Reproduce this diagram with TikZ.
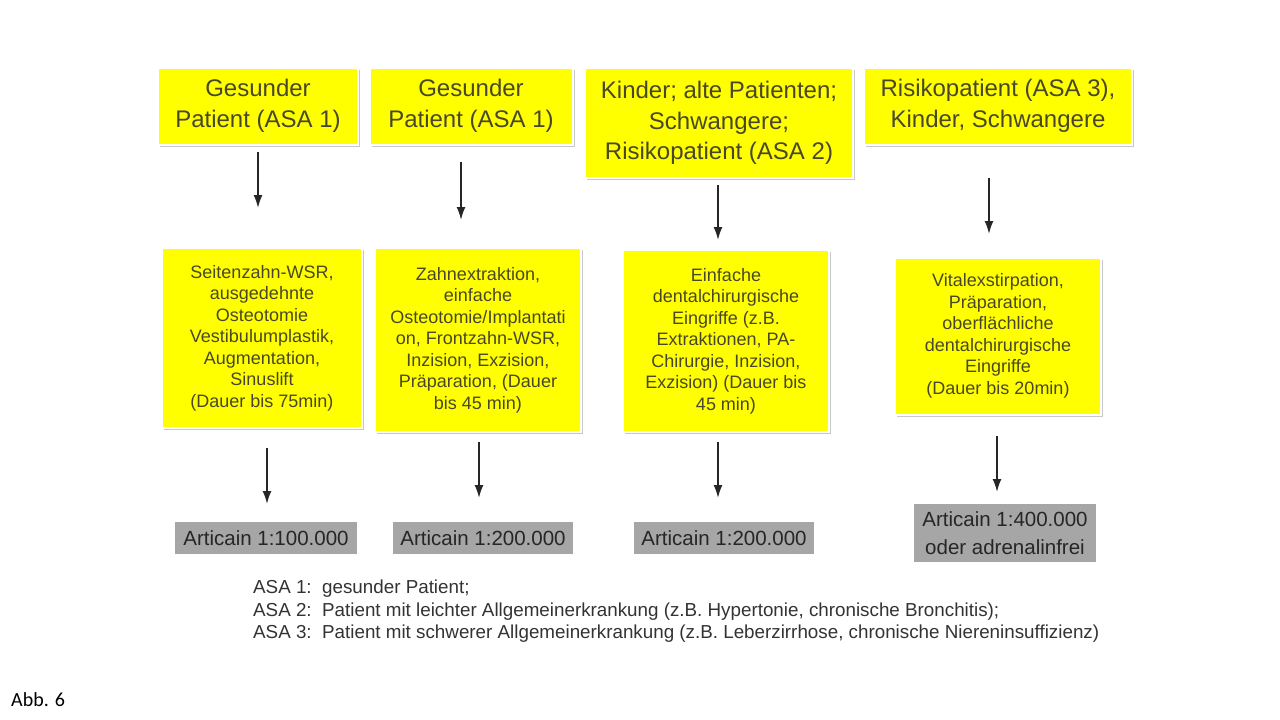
\documentclass[tikz,border=0pt]{standalone}
\usepackage{fontspec}
\setmainfont{Liberation Sans}
\newfontfamily\abbfont{Carlito}
\usetikzlibrary{positioning,arrows.meta}
\definecolor{boxyellow}{RGB}{255,255,0}
\definecolor{olivetext}{RGB}{72,72,40}
\definecolor{shadowgray}{RGB}{200,200,200}
\definecolor{boxgray}{RGB}{166,166,166}
\tikzset{
  patbox/.style={fill=boxyellow, draw=white, line width=2pt, text=olivetext, align=center,
    font=\fontsize{24}{30.5}\selectfont, inner sep=2pt, minimum height=77pt},
  eingbox/.style={fill=boxyellow, draw=white, line width=2pt, text=olivetext, align=center,
    font=\fontsize{18}{21.5}\selectfont, inner sep=1pt},
  dosebox/.style={fill=boxgray, draw=white, line width=1.5pt, text=black!85, align=center,
    font=\fontsize{20.5}{28}\selectfont, inner sep=2pt, minimum height=34pt},
  shadowed/.style={preaction={fill=shadowgray, transform canvas={shift={(2pt,-2pt)}}}},
  flowarrow/.style={-{Latex[length=13pt,width=9pt]}, line width=1.8pt, black!85},
}
\begin{document}
\begin{tikzpicture}[x=1pt,y=-1pt]
\useasboundingbox[fill=white] (0,0) rectangle (1280,720);
% Patienten
\node[patbox, shadowed, minimum width=200pt] (p1) at (258,106) {Gesunder\\Patient (ASA 1)};
\node[patbox, shadowed, minimum width=203pt] (p2) at (471,106) {Gesunder\\Patient (ASA 1)};
\node[patbox, shadowed, minimum width=268pt, minimum height=110pt] (p3) at (719,123) {Kinder; alte Patienten;\\Schwangere;\\Risikopatient (ASA 2)};
\node[patbox, shadowed, minimum width=268pt] (p4) at (998,106) {Risikopatient (ASA 3),\\Kinder, Schwangere};
% Eingriffe
\node[eingbox, shadowed, minimum width=200pt, minimum height=180pt] (e1) at (262,338) {Seitenzahn-WSR,\\ausgedehnte\\Osteotomie\\Vestibulumplastik,\\Augmentation,\\Sinuslift\\(Dauer bis 75min)};
\node[eingbox, shadowed, minimum width=206pt, minimum height=184pt] (e2) at (478,340) {Zahnextraktion,\\einfache\\Osteotomie/Implantati\\on, Frontzahn-WSR,\\Inzision, Exzision,\\Präparation, (Dauer\\bis 45 min)};
\node[eingbox, shadowed, minimum width=206pt, minimum height=182pt] (e3) at (726,341) {Einfache\\dentalchirurgische\\Eingriffe (z.B.\\Extraktionen, PA-\\Chirurgie, Inzision,\\Exzision) (Dauer bis\\45 min)};
\node[eingbox, shadowed, minimum width=206pt, minimum height=157pt] (e4) at (998,336) {Vitalexstirpation,\\Präparation,\\oberflächliche\\dentalchirurgische\\Eingriffe\\(Dauer bis 20min)};
% Anaesthetika
\node[dosebox, minimum width=183pt] (d1) at (266,538) {Articain 1:100.000};
\node[dosebox, minimum width=182pt] (d2) at (483,538) {Articain 1:200.000};
\node[dosebox, minimum width=182pt] (d3) at (724,538) {Articain 1:200.000};
\node[dosebox, minimum width=184pt, minimum height=60pt] (d4) at (1005,533) {Articain 1:400.000\\oder adrenalinfrei};
% Pfeile
\draw[flowarrow] (258,152) -- (258,208);
\draw[flowarrow] (461,162) -- (461,220);
\draw[flowarrow] (718,185) -- (718,240);
\draw[flowarrow] (989,178) -- (989,234);
\draw[flowarrow] (267,448) -- (267,504);
\draw[flowarrow] (479,442) -- (479,498);
\draw[flowarrow] (718,442) -- (718,498);
\draw[flowarrow] (997,436) -- (997,492);
% Legende
\node[anchor=north west, align=left, text=black!80, font=\fontsize{18.8}{22.5}\selectfont, inner sep=0pt] (leg) at (253,580)
  {ASA 1:\ \ gesunder Patient;\\
   ASA 2:\ \ Patient mit leichter Allgemeinerkrankung (z.B. Hypertonie, chronische Bronchitis);\\
   ASA 3:\ \ Patient mit schwerer Allgemeinerkrankung (z.B. Leberzirrhose, chronische Niereninsuffizienz)};
\node[anchor=west, inner sep=0pt, font=\abbfont\fontsize{20}{24}\selectfont] (abb) at (11,700) {Abb. 6};
\end{tikzpicture}
\end{document}
